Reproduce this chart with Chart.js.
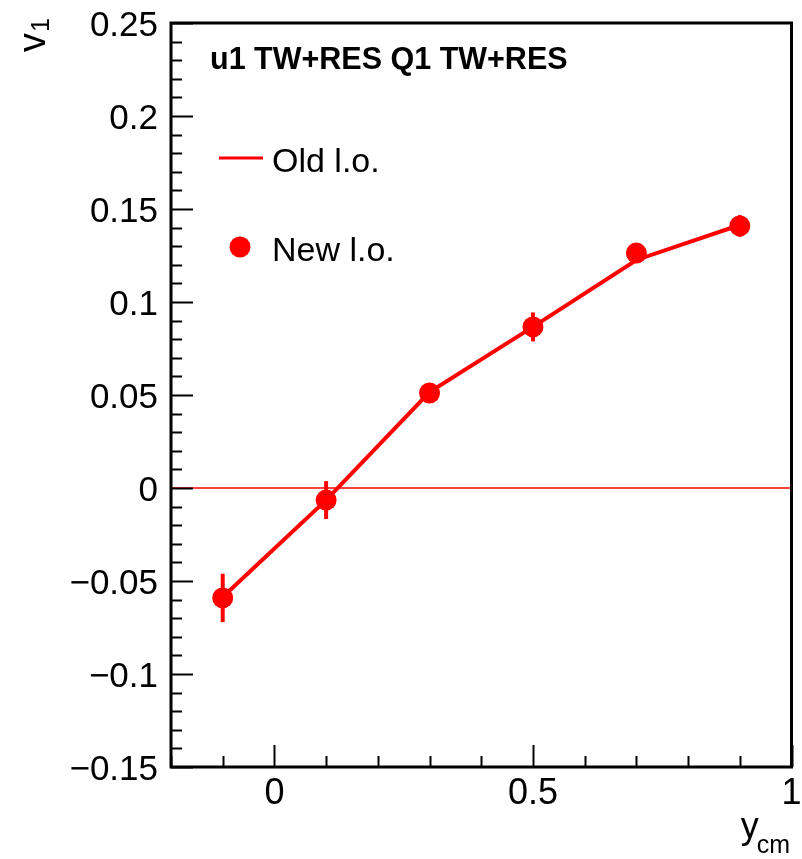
<!DOCTYPE html>
<html>
<head>
<meta charset="utf-8">
<script src="https://cdn.jsdelivr.net/npm/chart.js@4.4.1/dist/chart.umd.min.js"></script>
<style>
  html, body { margin: 0; padding: 0; background: #fff; }
  #wrap { width: 802px; height: 859px; }
</style>
</head>
<body>
<div id="wrap"><canvas id="v1-chart"></canvas></div>
<script>
// values
var rapidity = [-0.1, 0.1, 0.3, 0.5, 0.7, 0.9];
var oldLo = [-0.0586, -0.0065, 0.0516, 0.0866, 0.1226, 0.1414];
var newLo = [-0.0591, -0.0065, 0.0511, 0.0866, 0.1263, 0.1409];
var newLoErr = [0.0130, 0.0102, 0.0030, 0.0078, 0.0030, 0.0058];
var xTicks = [0, 0.5, 1];
var yTicks = [-0.15, -0.1, -0.05, 0, 0.05, 0.1, 0.15, 0.2, 0.25];
var seriesNames = ['Old l.o.', 'New l.o.'];
var plotTitle = 'u1 TW+RES Q1 TW+RES';

var RED = '#ff0000';
var FONT = '"Liberation Sans", Arial, Helvetica, sans-serif';

function fmt(v) {
    return String(v).replace('-', '\u2212');
}

function toPoints(xs, ys) {
    return xs.map(function (x, i) { return { x: x, y: ys[i] }; });
}

// frame, inward ticks, tick labels, zero line, error bars, legend and titles
var rootStyle = {
    id: 'rootStyle',
    beforeDatasetsDraw: function (chart) {
        var ctx = chart.ctx, a = chart.chartArea;
        var xs = chart.scales.x, ys = chart.scales.y;
        ctx.save();
        // y = 0 line
        var y0 = ys.getPixelForValue(0);
        ctx.strokeStyle = RED;
        ctx.lineWidth = 1.5;
        ctx.beginPath();
        ctx.moveTo(a.left, y0);
        ctx.lineTo(a.right, y0);
        ctx.stroke();
        // error bars of the new points
        ctx.lineWidth = 4;
        newLo.forEach(function (v, i) {
            var px = xs.getPixelForValue(rapidity[i]);
            ctx.beginPath();
            ctx.moveTo(px, ys.getPixelForValue(v - newLoErr[i]));
            ctx.lineTo(px, ys.getPixelForValue(v + newLoErr[i]));
            ctx.stroke();
        });
        ctx.restore();
    },
    afterDatasetsDraw: function (chart) {
        var ctx = chart.ctx, a = chart.chartArea;
        var xs = chart.scales.x, ys = chart.scales.y;
        ctx.save();
        ctx.strokeStyle = '#000';
        ctx.lineWidth = 2;
        // minor / major ticks on y
        var i, v, p, len;
        for (i = 0; i <= 40; i++) {
            v = ys.min + i * 0.01;
            p = Math.round(ys.getPixelForValue(v)) + 0.5;
            len = (i % 5 === 0) ? 22 : 11;
            ctx.beginPath();
            ctx.moveTo(a.left, p);
            ctx.lineTo(a.left + len, p);
            ctx.stroke();
        }
        // minor / major ticks on x
        for (i = 0; i <= 12; i++) {
            v = xs.min + i * 0.1;
            p = Math.round(xs.getPixelForValue(v)) + 0.5;
            len = ((i - 2) % 5 === 0) ? 22 : 11;
            ctx.beginPath();
            ctx.moveTo(p, a.bottom);
            ctx.lineTo(p, a.bottom - len);
            ctx.stroke();
        }
        // frame
        ctx.lineWidth = 3;
        ctx.strokeRect(a.left, a.top, a.right - a.left, a.bottom - a.top);

        // tick labels
        ctx.fillStyle = '#000';
        ctx.textBaseline = 'alphabetic';
        ctx.font = '35px ' + FONT;
        ctx.textAlign = 'right';
        yTicks.forEach(function (t) {
            ctx.fillText(fmt(t), a.left - 13, ys.getPixelForValue(t) + 13);
        });
        ctx.font = '36px ' + FONT;
        ctx.textAlign = 'center';
        xTicks.forEach(function (t) {
            ctx.fillText(fmt(t), xs.getPixelForValue(t), a.bottom + 37);
        });

        // title inside the frame
        ctx.textAlign = 'left';
        ctx.font = 'bold 30.5px ' + FONT;
        ctx.fillText(plotTitle, 210, 69);

        // legend
        ctx.font = '34px ' + FONT;
        ctx.fillText(seriesNames[0], 272, 172);
        ctx.fillText(seriesNames[1], 272, 261);
        ctx.strokeStyle = RED;
        ctx.lineWidth = 3;
        ctx.beginPath();
        ctx.moveTo(219, 158);
        ctx.lineTo(263, 158);
        ctx.stroke();
        ctx.fillStyle = RED;
        ctx.beginPath();
        ctx.arc(240, 247, 10.5, 0, Math.PI * 2);
        ctx.fill();

        // axis titles
        ctx.fillStyle = '#000';
        // x: y_cm, right aligned at the axis end
        ctx.font = '25px ' + FONT;
        var wSub = ctx.measureText('cm').width;
        ctx.fillText('cm', 790 - wSub, 853);
        ctx.font = '36px ' + FONT;
        var wY = ctx.measureText('y').width;
        ctx.fillText('y', 790 - wSub - wY + 2, 838);
        // y: v_1, rotated, ending near the top
        ctx.translate(45, 52);
        ctx.rotate(-Math.PI / 2);
        ctx.font = '38px ' + FONT;
        ctx.fillText('v', 0, 0);
        var wv = ctx.measureText('v').width;
        ctx.font = '25px ' + FONT;
        ctx.fillText('1', wv + 1, 4);
        ctx.restore();
    }
};

var ctx = document.getElementById('v1-chart').getContext('2d');
var v1Chart = new Chart(ctx, {
    type: 'scatter',
    data: {
        datasets: [{
            label: seriesNames[0],
            data: toPoints(rapidity, oldLo),
            showLine: true,
            borderColor: RED,
            borderWidth: 4,
            pointRadius: 0,
            fill: false,
            order: 2
        }, {
            label: seriesNames[1],
            data: toPoints(rapidity, newLo),
            showLine: false,
            backgroundColor: RED,
            borderColor: RED,
            borderWidth: 0,
            pointRadius: 10.5,
            order: 1
        }]
    },
    options: {
        responsive: true,
        maintainAspectRatio: false,
        animation: false,
        devicePixelRatio: 1,
        layout: {
            padding: { top: 23, right: 10, left: 0, bottom: 0 }
        },
        plugins: {
            legend: { display: false },
            tooltip: { enabled: false }
        },
        scales: {
            x: {
                type: 'linear',
                min: -0.2,
                max: 1,
                grid: { display: false, drawTicks: false },
                border: { display: false },
                ticks: { display: false },
                afterFit: function (s) { s.height = 92; }
            },
            y: {
                type: 'linear',
                min: -0.15,
                max: 0.25,
                grid: { display: false, drawTicks: false },
                border: { display: false },
                ticks: { display: false },
                afterFit: function (s) { s.width = 171; }
            }
        }
    },
    plugins: [rootStyle]
});
</script>
</body>
</html>
